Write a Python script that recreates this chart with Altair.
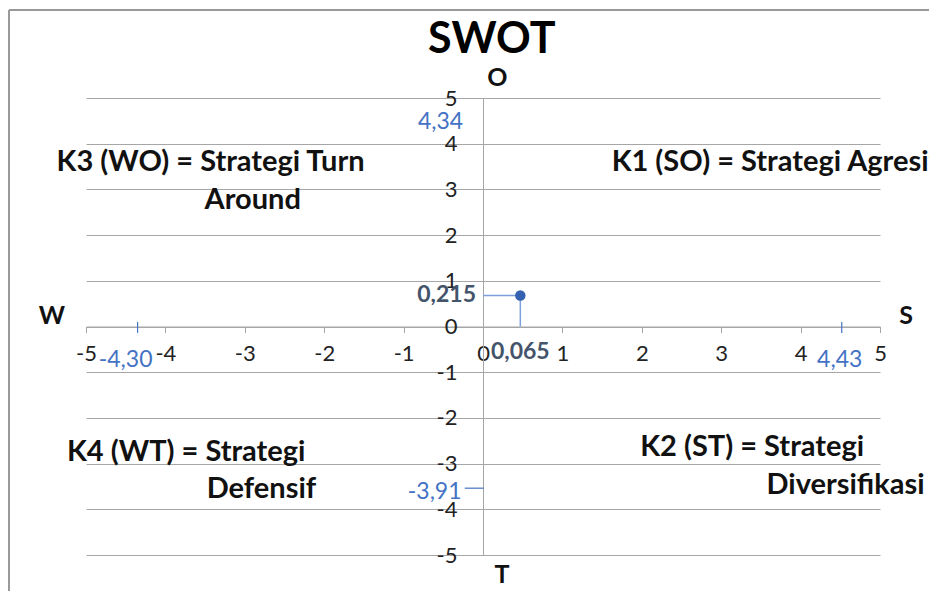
import altair as alt
import pandas as pd

# ---- data ----
axis_values = [-5, -4, -3, -2, -1, 0, 1, 2, 3, 4, 5]
point_x = [0.47]
point_y = [0.68]
point_text_x = ["0,065"]
point_text_y = ["0,215"]

y_mark_values = [4.34, -3.91]
y_mark_labels = ["4,34", "-3,91"]
x_mark_values = [-4.30, 4.43]
x_mark_labels = ["-4,30", "4,43"]

quadrant_lines = ["K3 (WO) = Strategi Turn", "Around",
                  "K1 (SO) = Strategi Agresif",
                  "K4 (WT) = Strategi", "Defensif",
                  "K2 (ST) = Strategi", "Diversifikasi"]
direction_letters = ["O", "S", "W", "T"]
title_text = "SWOT"

FONT = "Lato"
BLUE = "#4472c4"
LINEBLUE = "#7a9fdc"
GRID = "#a6a6a6"

xs = alt.Scale(domain=[-5, 5], nice=False)
ys = alt.Scale(domain=[-5, 5], nice=False)

base_df = pd.DataFrame({"x": [-5, 5], "y": [-5, 5]})

axes = alt.Chart(base_df).mark_point(opacity=0).encode(
    x=alt.X("x:Q", scale=xs, title=None,
            axis=alt.Axis(values=axis_values, offset=-228.5, grid=False,
                          domainColor=GRID, tickColor=GRID, tickSize=6,
                          labelExpr="'' + datum.value",
                          labelFont=FONT, labelFontSize=22, labelColor="#222",
                          labelBaseline="middle", labelPadding=21,
                          labelFlush=False, labelOverlap=False)),
    y=alt.Y("y:Q", scale=ys, title=None,
            axis=alt.Axis(values=axis_values, offset=-397, grid=True,
                          gridColor=GRID, domainColor=GRID, ticks=False,
                          labelExpr="'' + datum.value",
                          labelFont=FONT, labelFontSize=22, labelColor="#222",
                          labelPadding=26, labelFlush=False,
                          labelOverlap=False)),
)

# drop lines and point
pdf = pd.DataFrame({"px": point_x, "py": point_y, "zero": [0.0],
                    "lx": point_text_x, "ly": point_text_y})
hline = alt.Chart(pdf).mark_rule(color=LINEBLUE, strokeWidth=1.5).encode(
    x=alt.X("zero:Q", scale=xs), x2="px:Q", y=alt.Y("py:Q", scale=ys))
vline = alt.Chart(pdf).mark_rule(color=LINEBLUE, strokeWidth=1.5).encode(
    x=alt.X("px:Q", scale=xs), y=alt.Y("zero:Q", scale=ys), y2="py:Q")
pt = alt.Chart(pdf).mark_circle(color="#3461b0", size=110, opacity=1).encode(
    x=alt.X("px:Q", scale=xs), y=alt.Y("py:Q", scale=ys))
lab_y = alt.Chart(pdf).mark_text(font=FONT, fontSize=23, fontWeight="bold",
                                 color="#44546a", align="right", dx=-7,
                                 baseline="middle").encode(
    x=alt.X("zero:Q", scale=xs), y=alt.Y("py:Q", scale=ys), text="ly:N")
lab_x = alt.Chart(pdf).mark_text(font=FONT, fontSize=23, fontWeight="bold",
                                 color="#44546a", align="center", dy=25,
                                 baseline="middle").encode(
    x=alt.X("px:Q", scale=xs), y=alt.Y("zero:Q", scale=ys), text="lx:N")

# blue value annotations
ydf = pd.DataFrame({"v": y_mark_values, "t": y_mark_labels,
                    "x": [-0.25, -0.27], "dy": [-6, -13]})
ylabs = [
    alt.Chart(ydf.iloc[[i]]).mark_text(font=FONT, fontSize=23, color=BLUE,
                                       align="right", baseline="middle",
                                       dy=float(ydf.dy[i])).encode(
        x=alt.X("x:Q", scale=xs), y=alt.Y("v:Q", scale=ys), text="t:N")
    for i in range(2)
]
ytick = alt.Chart(pd.DataFrame({"v": [y_mark_values[1]], "a": [-0.23], "b": [0.01]})
                  ).mark_rule(color=BLUE, strokeWidth=1.2, yOffset=-17).encode(
    x=alt.X("a:Q", scale=xs), x2="b:Q", y=alt.Y("v:Q", scale=ys))

xdf = pd.DataFrame({"v": x_mark_values, "t": x_mark_labels, "zero": [0, 0],
                    "dx": [-16, 5], "xo": [-4, 7], "a": [0.1, 0.1], "b": [-0.14, -0.14]})
xlabs = [
    alt.Chart(xdf.iloc[[i]]).mark_text(font=FONT, fontSize=23, color=BLUE,
                                       align="center", baseline="middle",
                                       dx=float(xdf.dx[i]), dy=33).encode(
        x=alt.X("v:Q", scale=xs), y=alt.Y("zero:Q", scale=ys), text="t:N")
    for i in range(2)
]
xticks = [
    alt.Chart(xdf.iloc[[i]]).mark_rule(color=BLUE, strokeWidth=1.2,
                                       xOffset=float(xdf.xo[i])).encode(
        x=alt.X("v:Q", scale=xs), y=alt.Y("a:Q", scale=ys), y2="b:Q")
    for i in range(2)
]

# quadrant texts
qdf = pd.DataFrame({
    "t": quadrant_lines,
    "x": [-5.37, -2.9, 1.62, -5.24, -3.48, 1.98, 3.57],
    "y": [3.6, 2.77, 3.6, -2.75, -3.56, -2.64, -3.47],
    "al": ["left", "center", "left", "left", "left", "left", "left"],
})
quad = []
for al in ["left", "center"]:
    quad.append(alt.Chart(qdf[qdf.al == al]).mark_text(
        font=FONT, fontSize=29, fontWeight="bold", color="#111",
        align=al, baseline="middle").encode(
        x=alt.X("x:Q", scale=xs), y=alt.Y("y:Q", scale=ys), text="t:N"))

ddf = pd.DataFrame({"t": direction_letters,
                    "x": [0.18, 5.33, -5.43, 0.24],
                    "y": [5.44, 0.23, 0.23, -5.43]})
dirs = alt.Chart(ddf).mark_text(font=FONT, fontSize=25, fontWeight="bold",
                                color="#111", baseline="middle").encode(
    x=alt.X("x:Q", scale=xs), y=alt.Y("y:Q", scale=ys), text="t:N")

tdf = pd.DataFrame({"t": [title_text], "x": [0.11], "y": [6.27]})
title = alt.Chart(tdf).mark_text(font=FONT, fontSize=43, fontWeight="bold",
                                 color="#000", baseline="middle").encode(
    x=alt.X("x:Q", scale=xs), y=alt.Y("y:Q", scale=ys), text="t:N")

# outer frame (decoration): left and top edges only
frame_l = alt.Chart(base_df).mark_rule(color="#999", strokeWidth=2).encode(
    x=alt.value(-77), y=alt.value(-88), y2=alt.value(520))
frame_t = alt.Chart(base_df).mark_rule(color="#999", strokeWidth=2).encode(
    x=alt.value(-77), x2=alt.value(843), y=alt.value(-88))

chart = alt.layer(
    axes, frame_l, frame_t, hline, vline, pt, lab_y, lab_x,
    *ylabs, ytick, *xlabs, *xticks, *quad, dirs, title,
).properties(
    width=794, height=457,
    autosize=alt.AutoSizeParams(type="none"),
    padding={"left": 78, "top": 90, "right": 49, "bottom": 36},
    background="white",
).configure_view(stroke=None)

chart.save("out.html", embed_options={"renderer": "svg", "actions": False})
